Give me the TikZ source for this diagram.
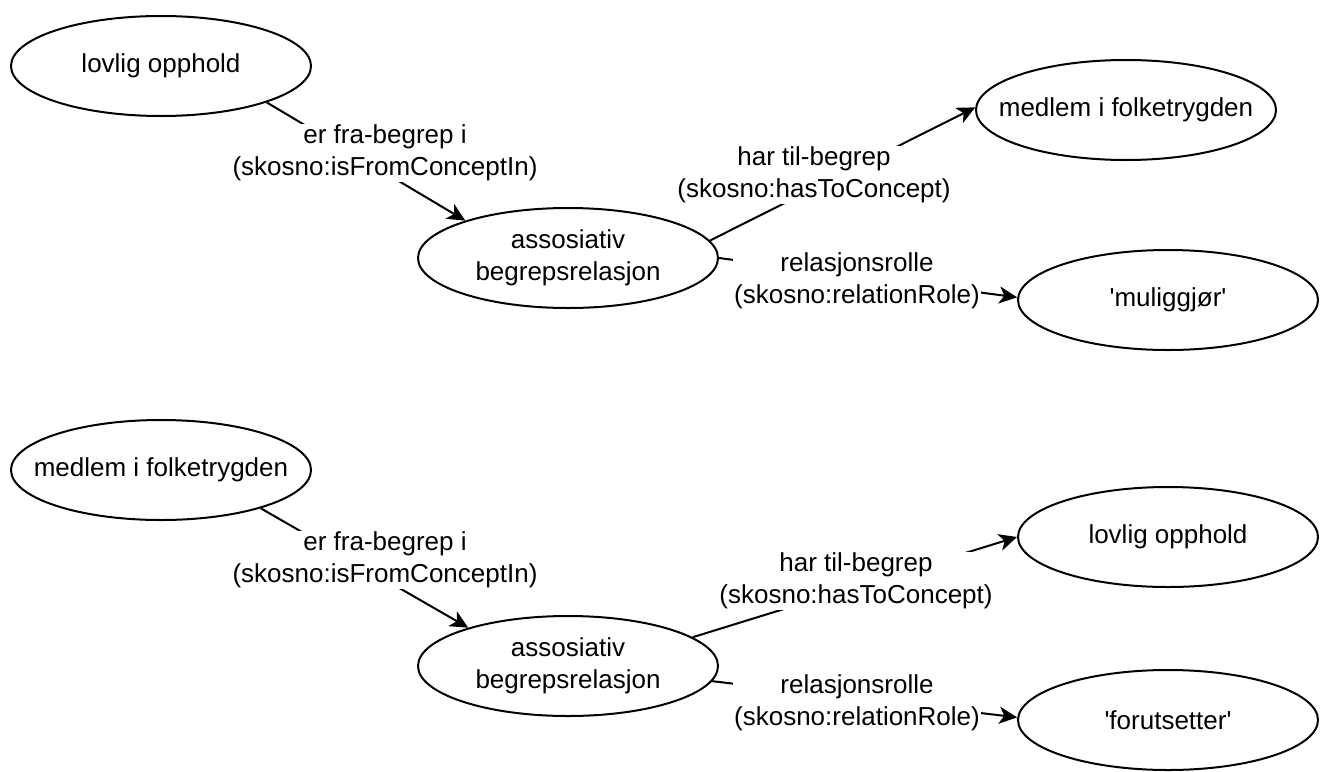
\documentclass[tikz,border=0pt]{standalone}
\usepackage{fontspec}
\setmainfont{Liberation Sans}
\usetikzlibrary{shapes.geometric,arrows.meta}
\begin{document}
\begin{tikzpicture}[x=1pt,y=-1pt,
  concept/.style={ellipse,draw,line width=2pt,minimum width=300pt,minimum height=100pt,inner sep=0pt,align=center,font=\fontsize{26}{31.5}\selectfont},
  rel/.style={line width=2pt,-{Stealth[length=18pt,width=17pt,inset=5pt]}},
  lbl/.style={fill=white,inner sep=1pt,align=center,font=\fontsize{26}{31.5}\selectfont}]
\useasboundingbox (0,0) rectangle (1321,771);
% top group
\node[concept] (lo1) at (161,66) {lovlig opphold};
\node[concept] (me1) at (1126,110) {\makebox[0pt]{medlem i folketrygden}};
\node[concept] (as1) at (568,258) {assosiativ\\begrepsrelasjon};
\node[concept] (mu)  at (1168,300) {\textquotesingle muliggjør\textquotesingle};
% bottom group
\node[concept] (me2) at (161,470) {\makebox[0pt]{medlem i folketrygden}};
\node[concept] (lo2) at (1168,537) {lovlig opphold};
\node[concept] (as2) at (568,666) {assosiativ\\begrepsrelasjon};
\node[concept] (fo)  at (1168,720) {\textquotesingle forutsetter\textquotesingle};
% edges
\draw[rel] (lo1.-19.4) -- (as1.160.4);
\draw[rel] (as1.7.6) -- (me1.179.2);
\draw[rel] (as1.0) -- (mu.179.6);
\draw[rel] (me2.-21.3) -- (as2.159.6);
\draw[rel] (as2.13.2) -- (lo2.180);
\draw[rel] (as2.-6.8) -- (fo.179.6);
% labels
\node[lbl] (l1) at (385,153) {er fra-begrep i\\(skosno:isFromConceptIn)};
\node[lbl] (l2) at (814,175) {har til-begrep\\(skosno:hasToConcept)};
\node[lbl] (l3) at (857,281) {relasjonsrolle\\(skosno:relationRole)};
\node[lbl] (l4) at (385,560) {er fra-begrep i\\(skosno:isFromConceptIn)};
\node[lbl] (l5) at (856,581) {har til-begrep\\(skosno:hasToConcept)};
\node[lbl] (l6) at (857,703) {relasjonsrolle\\(skosno:relationRole)};
\end{tikzpicture}
\end{document}
